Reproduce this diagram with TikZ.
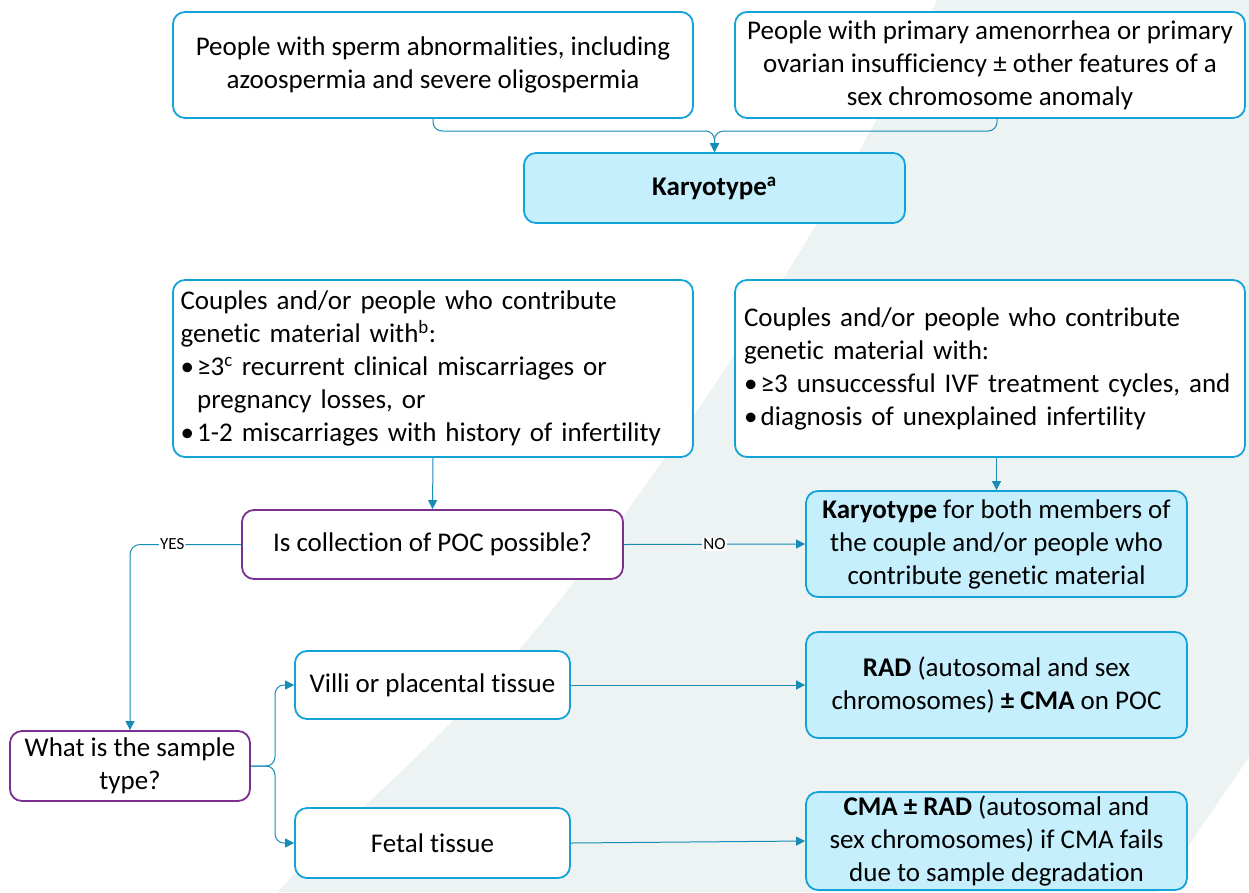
\documentclass[tikz,border=0pt]{standalone}
\usepackage{fontspec}
\setmainfont{Carlito}[Ligatures={NoCommon}]
\usetikzlibrary{arrows.meta,calc}
\definecolor{boxc}{RGB}{20,163,214}
\definecolor{connc}{RGB}{24,140,182}
\definecolor{lightc}{RGB}{197,239,252}
\definecolor{purp}{RGB}{122,48,140}
\definecolor{bgc}{RGB}{237,243,243}
\newcommand\bul{\makebox[0.62em][l]{•}}
\newcommand\ind{\hspace*{0.62em}}
\tikzset{
  base/.style={line width=1.8pt, rounded corners=12pt, inner sep=0pt, align=center,
    font=\fontsize{27}{33}\selectfont},
  wbox/.style={base, draw=boxc, fill=white},
  cbox/.style={base, draw=boxc, fill=lightc},
  pbox/.style={base, draw=purp, fill=white},
  conn/.style={draw=connc, line width=1pt},
  arr/.style={conn, -{Triangle[length=9pt,width=9pt]}},
  lbl/.style={fill=white, inner sep=1pt, font=\fontsize{17}{20}\selectfont}
}
\begin{document}
\begin{tikzpicture}[x=1pt,y=-1pt]
\useasboundingbox (0,0) rectangle (1249,892);
% background band
\fill[bgc] (937,0) .. controls (860,170) and (700,420) .. (560,600)
  .. controls (450,740) and (330,830) .. (278,892) -- (1157,892) -- (1249,757) -- (1249,0) -- cycle;

% nodes
\node[wbox, minimum width=520pt, minimum height=106pt] (tl) at (433,65)
  {People with sperm abnormalities, including\\azoospermia and severe oligospermia};
\node[wbox, minimum width=510pt, minimum height=106pt] (tr) at (990,65)
  {People with primary amenorrhea or primary\\ovarian insufficiency ± other features of a\\sex chromosome anomaly};
\node[cbox, minimum width=381pt, minimum height=70pt] (kar) at (714.5,188)
  {\textbf{Karyotype\textsuperscript{a}}};
\node[wbox, minimum width=520pt, minimum height=177pt, text width=505pt, align=left] (ml) at (433,368.5)
  {Couples and/or people who contribute\\genetic material with\textsuperscript{b}:\\\bul≥3\textsuperscript{c} recurrent clinical miscarriages or\\\ind pregnancy losses, or\\\bul 1-2 miscarriages with history of infertility};
\node[wbox, minimum width=510pt, minimum height=177pt, text width=492pt, align=left] (mr) at (990,368.5)
  {Couples and/or people who contribute\\genetic material with:\\\bul≥3 unsuccessful IVF treatment cycles, and\\\bul diagnosis of unexplained infertility};
\node[pbox, minimum width=381pt, minimum height=69pt] (q) at (432.5,544.5)
  {Is collection of POC possible?};
\node[cbox, minimum width=381pt, minimum height=106pt] (kb) at (996.5,544)
  {\textbf{Karyotype} for both members of\\the couple and/or people who\\contribute genetic material};
\node[wbox, minimum width=275pt, minimum height=68pt] (v) at (432.5,685)
  {Villi or placental tissue};
\node[cbox, minimum width=381pt, minimum height=106pt] (rad) at (996.5,685)
  {\textbf{RAD} (autosomal and sex\\chromosomes) \textbf{± CMA} on POC};
\node[pbox, minimum width=240pt, minimum height=70pt] (s) at (130,766)
  {What is the sample\\type?};
\node[wbox, minimum width=275pt, minimum height=70pt] (f) at (432.5,843)
  {Fetal tissue};
\node[cbox, minimum width=381pt, minimum height=98pt] (cma) at (996.5,841)
  {\textbf{CMA ± RAD} (autosomal and\\sex chromosomes) if CMA fails\\due to sample degradation};

% connectors
\coordinate (j1) at (714.5,131);
\coordinate (trb) at (997,118);
\draw[arr, rounded corners=9pt] (tl.south) |- (j1) -- (kar.north);
\draw[arr, rounded corners=9pt] (trb) |- (j1) -- (kar.north);
\draw[arr] (ml.south) -- (q.north);
\draw[arr] (mr.south -| kb.north) -- (kb.north);
\draw[arr, rounded corners=10pt] (q.west) -| node[lbl, pos=0.31] {YES} (s.north);
\draw[arr] (q.east) -- node[lbl] {NO} (kb.west);
\coordinate (b1) at (275,766);
\draw[arr, rounded corners=9pt] (s.east) -- (b1) |- (v.west);
\draw[arr, rounded corners=9pt] (s.east) -- (b1) |- (f.west);
\draw[arr] (v.east) -- (rad.west);
\draw[arr] (f.east) -- (cma.west);
\end{tikzpicture}
\end{document}
